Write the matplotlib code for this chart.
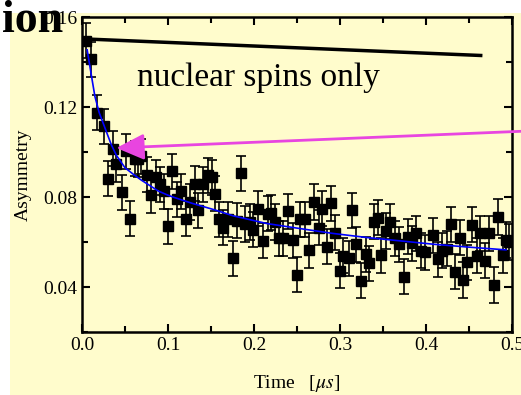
import matplotlib
matplotlib.use('Agg')
import matplotlib.pyplot as plt
from matplotlib.patches import Rectangle
from matplotlib.ticker import MultipleLocator

plt.rcParams['font.family'] = ['Liberation Serif', 'DejaVu Serif']
plt.rcParams['mathtext.fontset'] = 'stix'

# measured asymmetry (time in microseconds)
t = [0.005, 0.0105, 0.017, 0.026, 0.030, 0.036, 0.040, 0.046, 0.051, 0.056,
     0.062, 0.065, 0.069, 0.075, 0.080, 0.086, 0.091, 0.095, 0.100, 0.105,
     0.110, 0.115, 0.121, 0.126, 0.131, 0.135, 0.141, 0.146, 0.151, 0.155,
     0.159, 0.164, 0.170, 0.175, 0.180, 0.185, 0.190, 0.195, 0.199, 0.205,
     0.210, 0.216, 0.220, 0.224, 0.229, 0.234, 0.240, 0.245, 0.250, 0.254,
     0.259, 0.264, 0.270, 0.275, 0.279, 0.285, 0.290, 0.294, 0.300, 0.304,
     0.310, 0.314, 0.319, 0.324, 0.330, 0.334, 0.339, 0.344, 0.348, 0.354,
     0.358, 0.364, 0.369, 0.374, 0.379, 0.384, 0.388, 0.394, 0.399, 0.408,
     0.414, 0.419, 0.424, 0.429, 0.434, 0.439, 0.443, 0.448, 0.453, 0.459,
     0.463, 0.469, 0.473, 0.479, 0.484, 0.489, 0.493, 0.497]
asym = [0.1495, 0.1413, 0.1174, 0.1114, 0.0881, 0.1015, 0.0946, 0.0822, 0.1004, 0.0704,
        0.0970, 0.0967, 0.0981, 0.0900, 0.0807, 0.0888, 0.0856, 0.0826, 0.0669, 0.0915,
        0.0790, 0.0826, 0.0704, 0.0778, 0.0860, 0.0742, 0.0856, 0.0896, 0.0888, 0.0815,
        0.0701, 0.0664, 0.0701, 0.0527, 0.0694, 0.0905, 0.0680, 0.0689, 0.0654, 0.0748,
        0.0605, 0.0726, 0.0730, 0.0689, 0.0616, 0.0616, 0.0736, 0.0608, 0.0454, 0.0701,
        0.0701, 0.0564, 0.0778, 0.0664, 0.0748, 0.0579, 0.0772, 0.0642, 0.0472, 0.0539,
        0.0527, 0.0741, 0.0590, 0.0428, 0.0546, 0.0505, 0.0691, 0.0708, 0.0542, 0.0649,
        0.0691, 0.0616, 0.0590, 0.0446, 0.0624, 0.0595, 0.0638, 0.0561, 0.0555, 0.0630,
        0.0524, 0.0561, 0.0571, 0.0679, 0.0468, 0.0620, 0.0431, 0.0509, 0.0676, 0.0539,
        0.0639, 0.0517, 0.0638, 0.0409, 0.0711, 0.0542, 0.0609, 0.0600]
err = 0.0078

# fitted relaxation curve
fit_t = [0.006, 0.0105, 0.015, 0.020, 0.026, 0.034, 0.040, 0.050, 0.060, 0.069,
         0.080, 0.089, 0.100, 0.108, 0.128, 0.155, 0.176, 0.215, 0.253, 0.292,
         0.331, 0.370, 0.409, 0.447, 0.493]
fit_a = [0.1454, 0.1350, 0.1247, 0.1175, 0.1114, 0.1033, 0.0985, 0.0930, 0.0900, 0.0875,
         0.0848, 0.0826, 0.0808, 0.0797, 0.0772, 0.0742, 0.0716, 0.0682, 0.0660, 0.0638,
         0.0620, 0.0605, 0.0590, 0.0578, 0.0565]

# "nuclear spins only" line
nuc_t = [0.0, 0.4636]
nuc_a = [0.1503, 0.1429]

# arrow
arrow_from = (0.5105, 0.1092)
arrow_to = (0.040, 0.1018)

fig = plt.figure(figsize=(5.21, 3.95), dpi=100, facecolor='white')
fig.patches.append(Rectangle((10 / 521, 0), 1, (395 - 13) / 395, transform=fig.transFigure,
                             facecolor='#fffccc', edgecolor='none', zorder=-10))

ax = fig.add_axes([82 / 521, (395 - 332) / 395, 430 / 521, 315 / 395])
ax.patch.set_visible(False)

ax.errorbar(t, asym, yerr=err, fmt='s', color='black', ms=6.5, elinewidth=1.2,
            capsize=3.5, capthick=1.2, zorder=3)
ax.plot(fit_t, fit_a, color='#0000ff', lw=1.2, zorder=4)
ax.plot(nuc_t, nuc_a, color='black', lw=2.5, zorder=4)
ax.annotate('', xy=arrow_to, xytext=arrow_from, annotation_clip=False,
            arrowprops=dict(arrowstyle='-|>,head_length=0.85,head_width=0.4',
                            color='#e845e0', lw=2, mutation_scale=20, shrinkA=0, shrinkB=0),
            zorder=5)

ax.text(0.064, 0.1295, 'nuclear spins only', fontsize=24, ha='left', va='baseline')

ax.set_xlim(0, 0.5)
ax.set_ylim(0.02, 0.16)
ax.xaxis.set_major_locator(MultipleLocator(0.1))
ax.xaxis.set_minor_locator(MultipleLocator(0.05))
ax.yaxis.set_major_locator(MultipleLocator(0.04))
ax.yaxis.set_minor_locator(MultipleLocator(0.02))
ax.tick_params(which='both', direction='in', top=True, right=True, width=1.5, labelsize=14)
ax.tick_params(which='major', length=6)
ax.tick_params(which='minor', length=4)
ax.set_xticks([0.0, 0.1, 0.2, 0.3, 0.4, 0.5])
ax.set_xticklabels(['0.0', '0.1', '0.2', '0.3', '0.4', '0.5'])
ax.set_yticks([0.04, 0.08, 0.12, 0.16])
ax.set_yticklabels(['0.04', '0.08', '0.12', '0.16'])
for s in ax.spines.values():
    s.set_linewidth(1.8)

ax.set_xlabel(r'Time   [$\mu s$]', fontsize=14, labelpad=14)
ax.set_ylabel('Asymmetry', fontsize=14, labelpad=8)

fig.text(2 / 521, 1 - 32 / 395, 'ion', fontsize=33, fontweight='bold', ha='left', va='baseline')

fig.savefig('out.png', dpi=100, facecolor=fig.get_facecolor())
